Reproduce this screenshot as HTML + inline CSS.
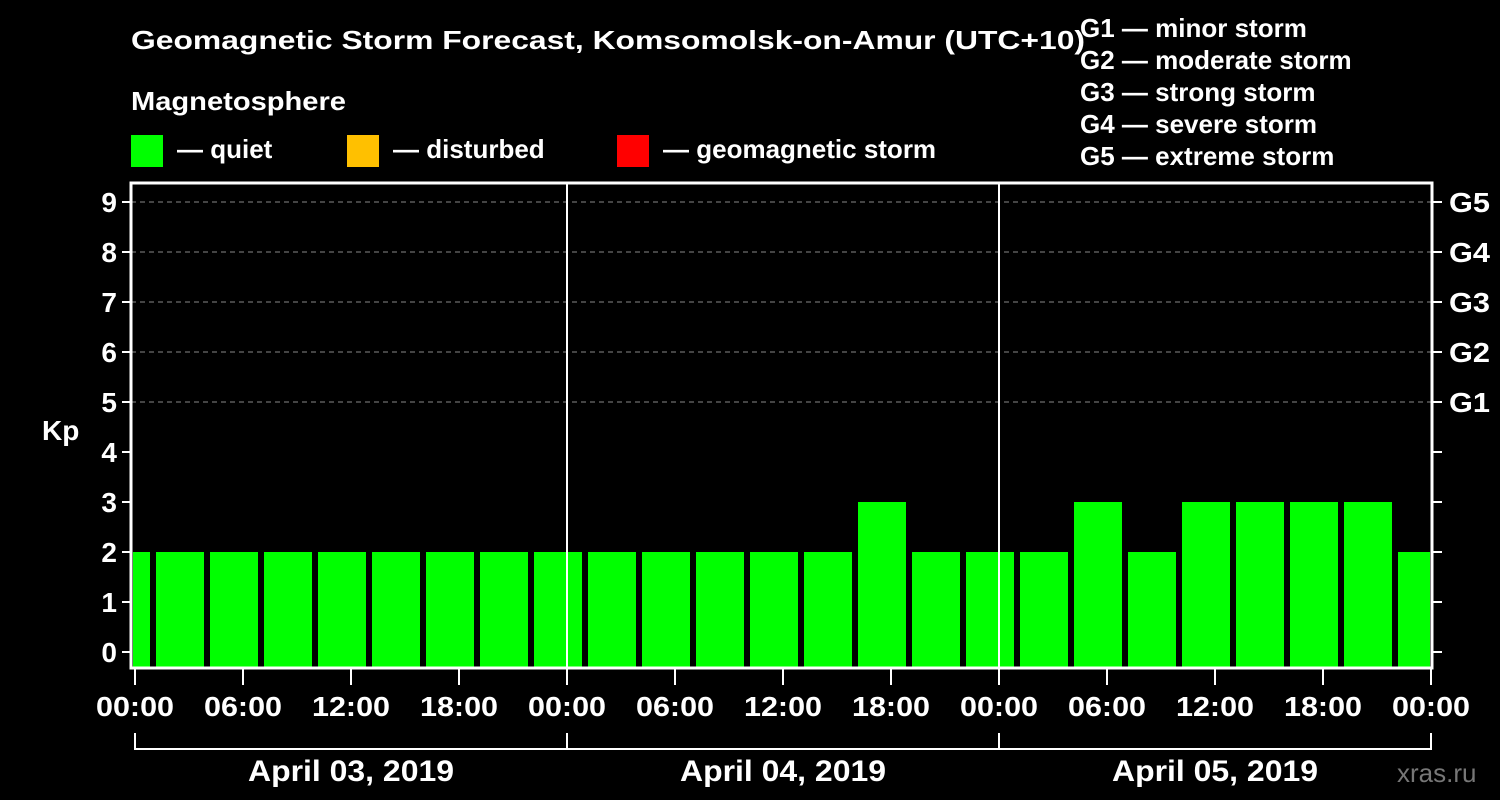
<!DOCTYPE html>
<html><head><meta charset="utf-8"><style>
body{margin:0;background:#000;}
svg{display:block;font-family:"Liberation Sans",Arial,sans-serif;font-weight:bold;}
</style></head><body>
<svg id="c" width="1500" height="800" viewBox="0 0 1500 800">
<rect width="1500" height="800" fill="#000"/>
<text x="131" y="49" fill="#fff" font-size="26" textLength="954" lengthAdjust="spacingAndGlyphs">Geomagnetic Storm Forecast, Komsomolsk-on-Amur (UTC+10)</text>
<text x="131" y="110" fill="#fff" font-size="26" textLength="215" lengthAdjust="spacingAndGlyphs">Magnetosphere</text>
<g><rect x="131" y="135" width="32" height="32" fill="#00ff00"/><text x="177" y="158" fill="#fff" font-size="26">— quiet</text></g>
<g><rect x="347" y="135" width="32" height="32" fill="#ffc000"/><text x="393" y="158" fill="#fff" font-size="26">— disturbed</text></g>
<g><rect x="617" y="135" width="32" height="32" fill="#ff0000"/><text x="663" y="158" fill="#fff" font-size="26">— geomagnetic storm</text></g>
<g fill="#fff" font-size="26">
<text x="1080" y="37">G1 — minor storm</text>
<text x="1080" y="69">G2 — moderate storm</text>
<text x="1080" y="101">G3 — strong storm</text>
<text x="1080" y="133">G4 — severe storm</text>
<text x="1080" y="165">G5 — extreme storm</text>
</g>
<text x="42" y="440" fill="#fff" font-size="28">Kp</text>
<text x="1397" y="782" fill="#777" font-size="26" font-weight="normal">xras.ru</text>
<g id="plot"></g>
</svg>
<script>
const kpValues=[2,2,2,2,2,2,2,2,2,2,2,2,2,2,3,2,2,2,3,2,3,3,3,3,2];
const firstBarCenterHour=-0.5;
const yTicks=[0,1,2,3,4,5,6,7,8,9];
const gLabels=['G1','G2','G3','G4','G5'];
const gLevels=[5,6,7,8,9];
const xTickLabels=['00:00','06:00','12:00','18:00','00:00','06:00','12:00','18:00','00:00','06:00','12:00','18:00','00:00'];
const dayLabels=['April 03, 2019','April 04, 2019','April 05, 2019'];

const NS='http://www.w3.org/2000/svg';
const plot=document.getElementById('plot');
const L=131,R=1432,T=183,B=668,X0=135,PXH=18;
const xs=h=>X0+h*PXH;
const ys=v=>652-v*50;
function mk(tag,attrs,parent){const e=document.createElementNS(NS,tag);for(const k in attrs)e.setAttribute(k,attrs[k]);(parent||plot).appendChild(e);return e;}
const defs=mk('defs',{});const cp=mk('clipPath',{id:'cp'},defs);mk('rect',{x:L+2,y:T,width:R-L-4,height:B-T},cp);
gLevels.forEach((v,i)=>{
 const g=mk('line',{x1:L,x2:R,y1:ys(v),y2:ys(v),stroke:'#888','stroke-dasharray':'5,4','stroke-width':1});
 
 
});
const bg=mk('g',{'clip-path':'url(#cp)'});
kpValues.forEach((v,i)=>{
 const c=xs(firstBarCenterHour+i*3);
 const r=mk('rect',{x:c-24,y:ys(v),width:48,height:B-ys(v),fill:v>=5?'#ff0000':(v>=4?'#ffc000':'#00ff00')},bg);
 
 
});
[1,2].forEach(d=>{const l=mk('line',{x1:xs(d*24),x2:xs(d*24),y1:T,y2:B,stroke:'#fff','stroke-width':2});
 
 });
const fr=mk('rect',{x:L,y:T,width:R-L,height:B-T,fill:'none',stroke:'#fff','stroke-width':3});


yTicks.forEach(v=>{
 mk('line',{x1:L-9,x2:L,y1:ys(v),y2:ys(v),stroke:'#fff','stroke-width':2});
 mk('line',{x1:R,x2:R+10,y1:ys(v),y2:ys(v),stroke:'#fff','stroke-width':2});
 const t=mk('text',{x:L-14,y:ys(v)+10,fill:'#fff','font-size':28,'text-anchor':'end'});t.textContent=v;
 
 
});
gLabels.forEach((s,i)=>{const t=mk('text',{x:1449,y:ys(gLevels[i])+10,fill:'#fff','font-size':28,textLength:41,lengthAdjust:'spacingAndGlyphs'});t.textContent=s;
 
 });
xTickLabels.forEach((s,i)=>{
 const x=xs(i*6);
 mk('line',{x1:x,x2:x,y1:B,y2:B+17,stroke:'#fff','stroke-width':2});
 const t=mk('text',{x:x,y:716,fill:'#fff','font-size':28,'text-anchor':'middle',textLength:78,lengthAdjust:'spacingAndGlyphs'});t.textContent=s;
 
 
});
dayLabels.forEach((s,i)=>{
 const a=xs(i*24),b=xs((i+1)*24);
 mk('polyline',{points:`${a},733 ${a},749 ${b},749 ${b},733`,fill:'none',stroke:'#fff','stroke-width':2});
 const t=mk('text',{x:(a+b)/2,y:781,fill:'#fff','font-size':30,'text-anchor':'middle',textLength:206,lengthAdjust:'spacingAndGlyphs'});t.textContent=s;
 
 
});
</script>
</body></html>
